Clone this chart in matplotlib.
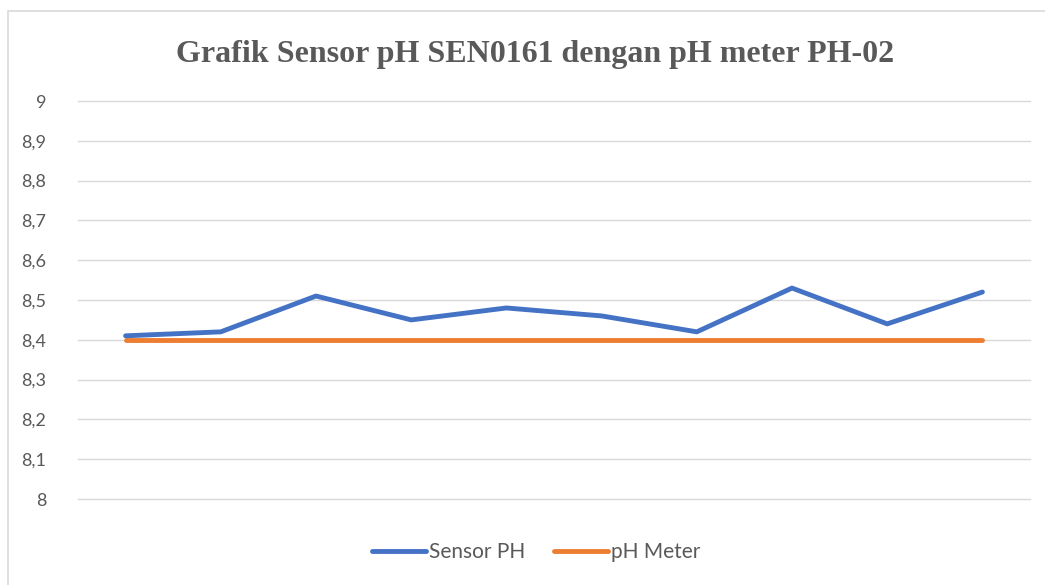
import matplotlib.pyplot as plt
from matplotlib.patches import Rectangle
from matplotlib.ticker import FuncFormatter

# data
points = list(range(1, 11))
sensor_ph = [8.41, 8.42, 8.51, 8.45, 8.48, 8.46, 8.42, 8.53, 8.44, 8.52]
ph_meter = [8.4] * 10
y_ticks = [8.0, 8.1, 8.2, 8.3, 8.4, 8.5, 8.6, 8.7, 8.8, 8.9, 9.0]

fig = plt.figure(figsize=(10.45, 5.85), dpi=100)
ax = fig.add_axes([78 / 1045, 86 / 585, (1030 - 78) / 1045, (499 - 101) / 585])

# chart frame, right and bottom edges run off the picture
fig.patches.append(Rectangle((8 / 1045, -10 / 585), 1050 / 1045, 584 / 585,
                             transform=fig.transFigure, fill=False,
                             edgecolor='#d9d9d9', linewidth=1.2))

ax.plot(points, ph_meter, color='#ed7d31', linewidth=3.5, solid_capstyle='round',
        label='pH Meter', zorder=3)
ax.plot(points, sensor_ph, color='#4472c4', linewidth=3.5, solid_capstyle='round',
        label='Sensor PH', zorder=4)

ax.set_xlim(0.5, 10.5)
ax.set_ylim(8, 9)
ax.set_yticks(y_ticks)
ax.yaxis.set_major_formatter(FuncFormatter(lambda v, p: f'{v:g}'.replace('.', ',')))
ax.set_xticks([])
ax.grid(axis='y', color='#d9d9d9', linewidth=1)
for gl in ax.get_ygridlines():
    gl.set_clip_on(False)
ax.set_axisbelow(True)
for s in ax.spines.values():
    s.set_visible(False)
ax.tick_params(axis='y', length=0, pad=23, labelsize=13, labelcolor='#595959')
for lbl in ax.get_yticklabels():
    lbl.set_fontfamily('Lato')

fig.text(0.512, 0.907, 'Grafik Sensor pH SEN0161 dengan pH meter PH-02',
         ha='center', va='center', fontsize=23, fontweight='bold',
         family='Liberation Serif', color='#595959')

handles, labels = ax.get_legend_handles_labels()
leg = fig.legend(handles[::-1], labels[::-1], loc='center', bbox_to_anchor=(0.513, 0.056),
                 ncol=2, frameon=False, handlelength=2.6, handletextpad=0.15,
                 columnspacing=1.35, prop={'family': 'Lato', 'size': 15})
for t in leg.get_texts():
    t.set_color('#595959')

fig.savefig('out.png', dpi=100)
